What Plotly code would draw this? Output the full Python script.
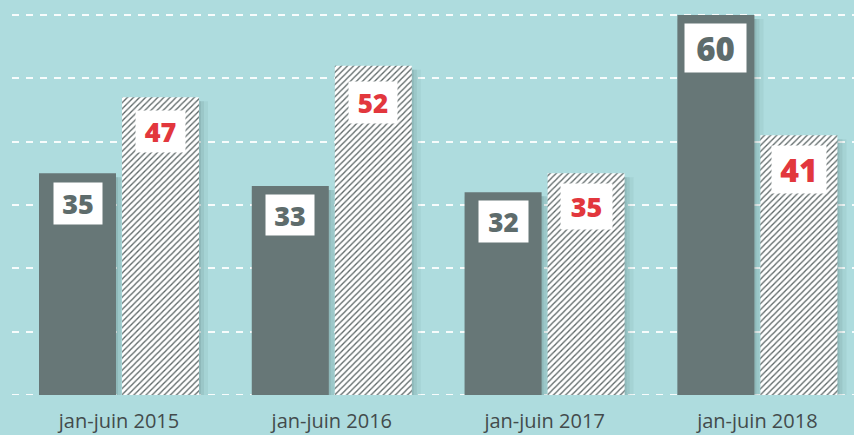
import plotly.graph_objects as go

# ---- data ----
categories = ["jan-juin 2015", "jan-juin 2016", "jan-juin 2017", "jan-juin 2018"]
series_dark = [35, 33, 32, 60]
series_hatched = [47, 52, 35, 41]
y_ticks = [0, 10, 20, 30, 40, 50, 60]

# ---- style ----
BG = "#aedcde"
DARK = "#677777"
DARK_TXT = "#5e6c6c"
RED = "#e2373d"
PX_X = 1 / 212.8       # one pixel in x data units
PX_Y = 1 / 6.333       # one pixel in y data units
BAR_W = 77 * PX_X
OFF_DARK = -80 * PX_X
OFF_HATCH = 3 * PX_X
GRID = "rgba(255,255,255,0.9)"

# label box styles (width, height, font size, gap below bar top)
dark_lbl = [(48, 41, 27, 9), (48, 40, 27, 8), (49, 41, 26, 8), (61, 48, 33, 8)]
hatch_lbl = [(49, 41, 27, 13), (48, 41, 26, 15), (51, 45, 27, 10), (54, 47, 32, 10)]

xs = list(range(len(categories)))
fig = go.Figure()

# soft drop shadows
for off in (OFF_DARK, OFF_HATCH):
    for shift, alpha in ((9, 0.06), (5, 0.08), (2, 0.10)):
        vals = series_dark if off == OFF_DARK else series_hatched
        fig.add_trace(go.Bar(
            x=xs, y=[v - 4 * PX_Y for v in vals], base=0,
            offset=off + shift * PX_X - 2 * PX_X, width=BAR_W + 2 * PX_X,
            marker=dict(color=f"rgba(40,70,70,{alpha})", line=dict(width=0)),
            hoverinfo="skip", showlegend=False))

fig.add_trace(go.Bar(
    x=xs, y=series_dark, offset=OFF_DARK, width=BAR_W,
    marker=dict(color=DARK, line=dict(width=0)), showlegend=False))

fig.add_trace(go.Bar(
    x=xs, y=series_hatched, offset=OFF_HATCH, width=BAR_W,
    marker=dict(color="white", line=dict(width=0),
                pattern=dict(shape="/", fgcolor="#5c6666", bgcolor="white",
                             size=4.3, solidity=0.3, fillmode="replace")),
    showlegend=False))

for i, v in enumerate(series_dark):
    w, h, fs, gap = dark_lbl[i]
    fig.add_annotation(x=i + OFF_DARK + BAR_W / 2, y=v, yanchor="top", yshift=-gap,
                       text=str(v), showarrow=False, width=w, height=h,
                       bgcolor="white", borderpad=0, align="center", valign="middle",
                       font=dict(family="Open Sans", size=fs, color=DARK_TXT, weight=800))
for i, v in enumerate(series_hatched):
    w, h, fs, gap = hatch_lbl[i]
    fig.add_annotation(x=i + OFF_HATCH + BAR_W / 2, y=v, yanchor="top", yshift=-gap,
                       text=str(v), showarrow=False, width=w, height=h,
                       bgcolor="white", borderpad=0, align="center", valign="middle",
                       font=dict(family="Open Sans", size=fs, color=RED, weight=800))

# dashed baseline (grid line at zero sits on the plot edge)
fig.add_shape(type="line", xref="paper", yref="y", x0=0, x1=1, y0=0, y1=0,
              layer="below", line=dict(color=GRID, width=2, dash="7px,7px"))

fig.update_layout(
    width=854, height=435,
    margin=dict(l=12, r=0, t=0, b=40),
    paper_bgcolor=BG, plot_bgcolor=BG,
    barmode="overlay",
    xaxis=dict(range=[-107 * PX_X, -107 * PX_X + 842 * PX_X],
               tickvals=xs, ticktext=categories, showgrid=False, zeroline=False,
               ticks="", ticklabelstandoff=12,
               tickfont=dict(family="Open Sans", size=20, color="#434b4c")),
    yaxis=dict(range=[0, 395 * PX_Y], tickvals=y_ticks, showticklabels=False,
               showgrid=True, gridcolor=GRID, gridwidth=2,
               griddash="7px,7px", zeroline=False),
)

fig.write_html("out.html")
